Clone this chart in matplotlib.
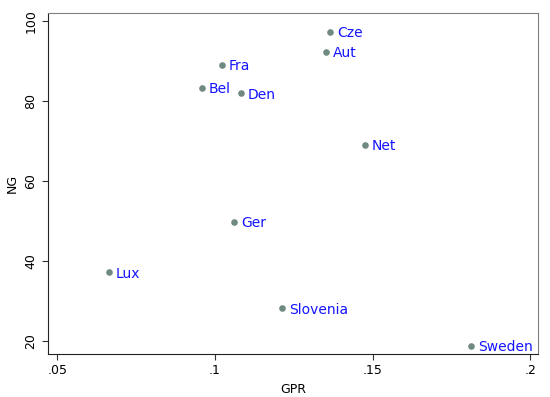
import matplotlib
matplotlib.use("Agg")
from matplotlib import pyplot as plt

# data
countries = ["Cze", "Aut", "Fra", "Bel", "Den", "Net", "Ger", "Lux", "Slovenia", "Sweden"]
gpr = [0.1366, 0.1352, 0.1022, 0.0958, 0.1083, 0.1475, 0.1061, 0.0662, 0.1214, 0.1812]
ng = [97.3, 92.3, 89.0, 83.3, 81.9, 69.0, 49.8, 37.2, 28.2, 18.8]

x_ticks = [0.05, 0.1, 0.15, 0.2]
x_tick_labels = [".05", ".1", ".15", ".2"]
y_ticks = [20, 40, 60, 80, 100]

plt.rcParams['font.family'] = ['DejaVu Sans']

fig = plt.figure(figsize=(5.5, 3.97), dpi=100)
ax = fig.add_axes([48 / 550, 1 - 354 / 397, (538 - 48) / 550, (354 - 13) / 397])

ax.scatter(gpr, ng, s=14, color="#6f8a80", zorder=3)
for name, x, y in zip(countries, gpr, ng):
    ax.annotate(name, (x, y), xytext=(5, -1), textcoords="offset points",
                ha="left", va="center", color="#1414ff", fontsize=10)

ax.set_xlim(0.047, 0.2025)
ax.set_ylim(16.75, 102)
ax.set_xticks(x_ticks)
ax.set_xticklabels(x_tick_labels)
ax.set_yticks(y_ticks)
ax.tick_params(axis="both", labelsize=9, length=4, color="#333333")
for tl in ax.get_yticklabels():
    tl.set_rotation(90)
    tl.set_va("center")

ax.set_xlabel("GPR", fontsize=9, labelpad=4)
ax.set_ylabel("NG", fontsize=9, labelpad=4)

ax.spines["left"].set_color("#222222")
ax.spines["bottom"].set_color("#222222")
ax.spines["top"].set_color("#808080")
ax.spines["right"].set_color("#808080")

plt.savefig("out.png")
